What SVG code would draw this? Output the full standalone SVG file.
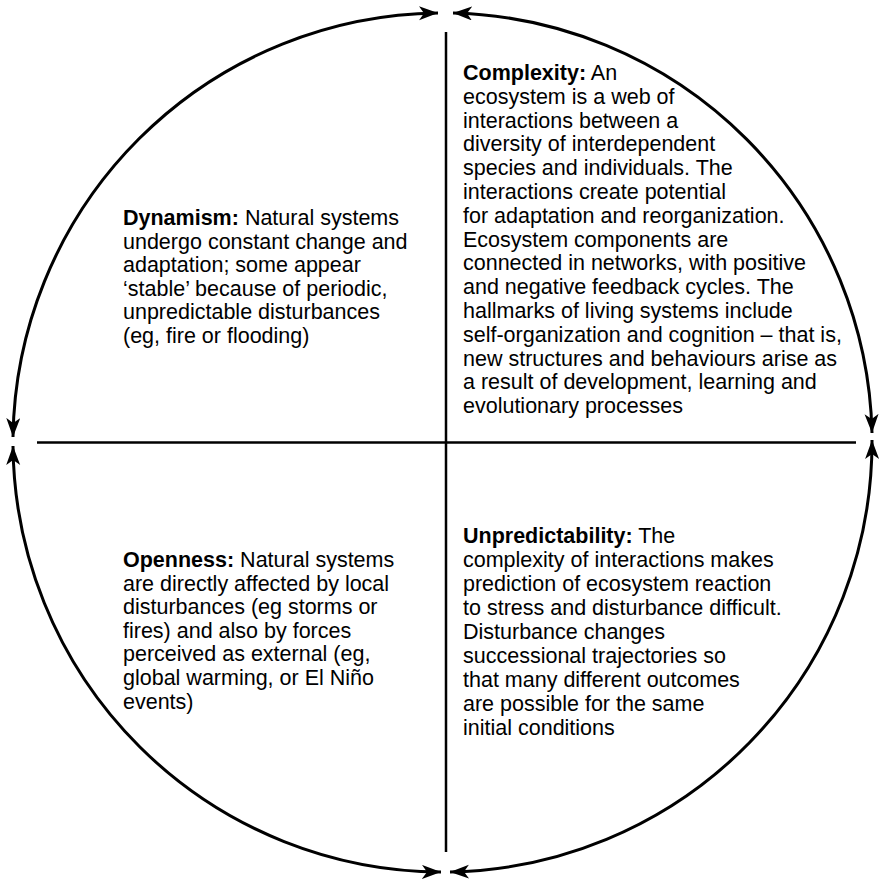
<svg xmlns="http://www.w3.org/2000/svg" width="882" height="879" viewBox="0 0 882 879">
<style>
  .arc { fill: none; stroke: #000; stroke-width: 3; marker-start: url(#ah); marker-end: url(#ah); }
  .axis { stroke: #000; stroke-width: 2.5; }
  .t { font-family: "Liberation Sans", Arial, Helvetica, sans-serif; font-size: 21.5px; fill: #000; }
  .b { font-weight: bold; }
</style>
<defs>
  <marker id="ah" markerUnits="userSpaceOnUse" markerWidth="22" markerHeight="16" refX="19" refY="7" orient="auto-start-reverse" viewBox="0 0 22 16">
    <path d="M0,0 L19,7 L0,14 L5,7 z" fill="#000"/>
  </marker>
</defs>
<rect width="882" height="879" fill="#fff"/>
<g id="connectors">
  <path class="arc" d="M13,437 A430,430 0 0 1 438,13"/>
  <path class="arc" d="M453,13 A430,430 0 0 1 872,433"/>
  <path class="arc" d="M872,440 A430,430 0 0 1 450,872"/>
  <path class="arc" d="M441,872 A430,430 0 0 1 13,446"/>
  <line class="axis" x1="37" y1="442.5" x2="856" y2="442.5"/>
  <line class="axis" x1="446" y1="32" x2="446" y2="852"/>
</g>
<g id="complexity">
  <text class="t" x="463" y="80"><tspan class="b">Complexity:</tspan> An<tspan x="463" dy="23.8">ecosystem is a web of</tspan><tspan x="463" dy="23.8">interactions between a</tspan><tspan x="463" dy="23.8">diversity of interdependent</tspan><tspan x="463" dy="23.8">species and individuals. The</tspan><tspan x="463" dy="23.8">interactions create potential</tspan><tspan x="463" dy="23.8">for adaptation and reorganization.</tspan><tspan x="463" dy="23.8">Ecosystem components are</tspan><tspan x="463" dy="23.8">connected in networks, with positive</tspan><tspan x="463" dy="23.8">and negative feedback cycles. The</tspan><tspan x="463" dy="23.8">hallmarks of living systems include</tspan><tspan x="463" dy="23.8">self-organization and cognition – that is,</tspan><tspan x="463" dy="23.8">new structures and behaviours arise as</tspan><tspan x="463" dy="23.8">a result of development, learning and</tspan><tspan x="463" dy="23.8">evolutionary processes</tspan></text>
</g>
<g id="dynamism">
  <text class="t" x="123" y="225"><tspan class="b">Dynamism:</tspan> Natural systems<tspan x="123" dy="23.6">undergo constant change and</tspan><tspan x="123" dy="23.6">adaptation; some appear</tspan><tspan x="123" dy="23.6">‘stable’ because of periodic,</tspan><tspan x="123" dy="23.6">unpredictable disturbances</tspan><tspan x="123" dy="23.6">(eg, fire or flooding)</tspan></text>
</g>
<g id="openness">
  <text class="t" x="123" y="567"><tspan class="b">Openness:</tspan> Natural systems<tspan x="123" dy="23.6">are directly affected by local</tspan><tspan x="123" dy="23.6">disturbances (eg storms or</tspan><tspan x="123" dy="23.6">fires) and also by forces</tspan><tspan x="123" dy="23.6">perceived as external (eg,</tspan><tspan x="123" dy="23.6">global warming, or El Niño</tspan><tspan x="123" dy="23.6">events)</tspan></text>
</g>
<g id="unpredictability">
  <text class="t" x="463" y="543"><tspan class="b">Unpredictability:</tspan> The<tspan x="463" dy="24">complexity of interactions makes</tspan><tspan x="463" dy="24">prediction of ecosystem reaction</tspan><tspan x="463" dy="24">to stress and disturbance difficult.</tspan><tspan x="463" dy="24">Disturbance changes</tspan><tspan x="463" dy="24">successional trajectories so</tspan><tspan x="463" dy="24">that many different outcomes</tspan><tspan x="463" dy="24">are possible for the same</tspan><tspan x="463" dy="24">initial conditions</tspan></text>
</g>
</svg>
